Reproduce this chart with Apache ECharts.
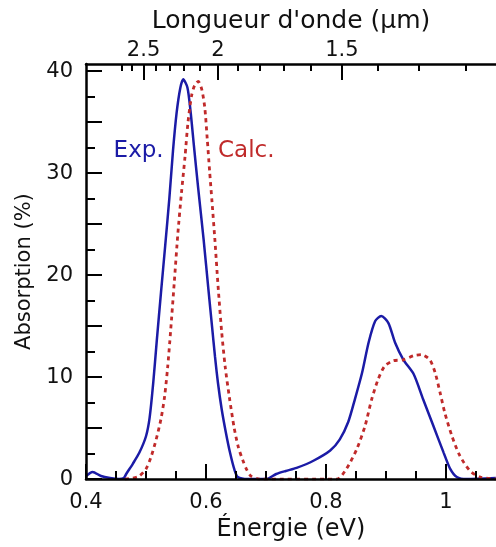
<!DOCTYPE html>
<html>
<head>
<meta charset="utf-8">
<script src="https://cdn.jsdelivr.net/npm/echarts@6/dist/echarts.min.js"></script>
<style>
html, body { margin: 0; padding: 0; background: #fff; }
#chart { width: 496px; height: 547px; }
</style>
</head>
<body>
<div id="chart"></div>
<script>
// measured spectrum (energy in eV, absorption in %)
const expEnergy = [0.400, 0.411, 0.425, 0.440, 0.455, 0.463, 0.467, 0.478, 0.489, 0.500, 0.506, 0.512, 0.518,
  0.525, 0.532, 0.539, 0.545, 0.551, 0.557, 0.562, 0.569, 0.574, 0.580, 0.587, 0.596, 0.604, 0.610, 0.615,
  0.620, 0.626, 0.633, 0.640, 0.647, 0.653, 0.670, 0.700, 0.717, 0.733, 0.751, 0.779, 0.807, 0.823, 0.837,
  0.848, 0.860, 0.871, 0.882, 0.892, 0.904, 0.915, 0.929, 0.946, 0.962, 0.979, 0.996, 1.007, 1.018, 1.034, 1.083];
const expAbs = [0.3, 0.7, 0.3, 0.1, 0.0, 0.1, 0.5, 1.5, 2.6, 4.2, 6.0, 9.4, 13.6,
  18.3, 22.9, 27.6, 32.2, 35.9, 38.3, 39.2, 38.4, 36.2, 32.6, 28.5, 23.5, 18.6, 15.0, 12.0,
  9.4, 6.9, 4.6, 2.6, 1.0, 0.2, 0.0, 0.0, 0.5, 0.8, 1.1, 1.8, 2.8, 3.9, 5.6,
  7.8, 10.4, 13.4, 15.5, 16.0, 15.3, 13.4, 11.7, 10.3, 7.8, 5.2, 2.6, 1.0, 0.2, 0.0, 0.1];

// calculated spectrum
const calcEnergy = [0.465, 0.478, 0.489, 0.500, 0.508, 0.517, 0.525, 0.531, 0.536, 0.541, 0.547, 0.553, 0.559,
  0.565, 0.570, 0.576, 0.581, 0.587, 0.593, 0.598, 0.602, 0.606, 0.610, 0.615, 0.620, 0.626, 0.632, 0.639,
  0.647, 0.654, 0.661, 0.668, 0.675, 0.689, 0.818, 0.834, 0.851, 0.865, 0.876, 0.887, 0.898, 0.912, 0.929,
  0.946, 0.959, 0.973, 0.982, 0.990, 0.998, 1.010, 1.023, 1.040, 1.057, 1.083];
const calcAbs = [0.0, 0.1, 0.3, 1.0, 2.1, 3.9, 5.9, 8.1, 10.9, 14.5, 19.2, 24.0, 28.0,
  31.6, 35.0, 37.6, 38.6, 39.0, 38.2, 36.4, 33.4, 30.2, 27.2, 23.3, 19.0, 14.5, 11.0, 8.0,
  5.0, 3.1, 1.9, 0.9, 0.3, 0.0, 0.0, 1.0, 2.9, 5.2, 7.8, 9.8, 11.1, 11.6, 11.7,
  12.1, 12.2, 11.7, 10.4, 8.5, 6.5, 4.2, 2.3, 0.8, 0.2, 0.0];

// ticks
const energyTicks = [0.4, 0.6, 0.8, 1.0];
const energyMinorTicks = [0.45, 0.5, 0.55, 0.65, 0.7, 0.75, 0.85, 0.9, 0.95, 1.05];
const absLabels = [0, 10, 20, 30, 40];
const absTicks = [0, 5, 10, 15, 20, 25, 30, 35, 40];
const absMinorTicks = [2.5, 7.5, 12.5, 17.5, 22.5, 27.5, 32.5, 37.5];
const waveTicks = [2.5, 2, 1.5];
const waveMinorTicks = [2.7, 2.6, 2.4, 2.3, 2.2, 2.1, 1.9, 1.8, 1.7, 1.6, 1.4, 1.3, 1.2];

const HC = 1.23984; // eV * um
const toEnergy = (l) => HC / l;

const font = "DejaVu Sans";
const blue = "#1b1ba6";
const red = "#c02a2a";

let chart = echarts.init(document.getElementById("chart"));

function zip(xs, ys) {
  return xs.map((x, i) => [x, ys[i]]);
}

const xMin = 0.4, xMax = 1.0833;
const yMin = 0, yMax = 40.7;

let option = {
  backgroundColor: "#fff",
  animation: false,
  grid: { left: 86, right: 0, top: 64, bottom: 67, containLabel: false },
  xAxis: [
    {
      type: "value",
      position: "bottom",
      min: xMin,
      max: xMax,
      z: 5,
      splitLine: { show: false },
      axisLine: { show: true, onZero: false, lineStyle: { color: "#000", width: 2.5 } },
      axisTick: { show: true, inside: true, length: 15, customValues: energyTicks, lineStyle: { color: "#000", width: 2 } },
      axisLabel: {
        show: true,
        customValues: energyTicks,
        margin: 13,
        color: "#111",
        fontFamily: font,
        fontSize: 21,
        formatter: (v) => String(Math.round(v * 10) / 10),
      },
      name: "Énergie (eV)",
      nameLocation: "middle",
      nameGap: 37,
      nameTextStyle: { fontFamily: font, fontSize: 24, color: "#111" },
    },
    {
      type: "value",
      position: "bottom",
      min: xMin,
      max: xMax,
      z: 5,
      splitLine: { show: false },
      axisLine: { show: false, onZero: false },
      axisTick: { show: true, inside: true, length: 8, customValues: energyMinorTicks, lineStyle: { color: "#000", width: 2 } },
      axisLabel: { show: false },
    },
    {
      type: "value",
      position: "top",
      min: xMin,
      max: xMax,
      z: 5,
      splitLine: { show: false },
      axisLine: { show: true, onZero: false, lineStyle: { color: "#000", width: 2.5 } },
      axisTick: { show: true, inside: true, length: 16, customValues: waveTicks.map(toEnergy), lineStyle: { color: "#000", width: 2 } },
      axisLabel: {
        show: true,
        customValues: waveTicks.map(toEnergy),
        margin: 3,
        color: "#111",
        fontFamily: font,
        fontSize: 21,
        formatter: (v) => String(Math.round((HC / v) * 10) / 10),
      },
      name: "Longueur d'onde (µm)",
      nameLocation: "middle",
      nameGap: 30,
      nameTextStyle: { fontFamily: font, fontSize: 25, color: "#111" },
    },
    {
      type: "value",
      position: "top",
      min: xMin,
      max: xMax,
      z: 5,
      splitLine: { show: false },
      axisLine: { show: false, onZero: false },
      axisTick: { show: true, inside: true, length: 7, customValues: waveMinorTicks.map(toEnergy), lineStyle: { color: "#000", width: 2 } },
      axisLabel: { show: false },
    },
  ],
  yAxis: [
    {
      type: "value",
      position: "left",
      min: yMin,
      max: yMax,
      z: 5,
      splitLine: { show: false },
      axisLine: { show: true, onZero: false, lineStyle: { color: "#000", width: 2.5 } },
      axisTick: { show: true, inside: true, length: 16, customValues: absTicks, lineStyle: { color: "#000", width: 2 } },
      axisLabel: {
        show: true,
        customValues: absLabels,
        margin: 13,
        color: "#111",
        fontFamily: font,
        fontSize: 21,
      },
      name: "Absorption (%)",
      nameLocation: "middle",
      nameGap: 50,
      nameRotate: 90,
      nameTextStyle: { fontFamily: font, fontSize: 21, color: "#111" },
    },
    {
      type: "value",
      position: "left",
      min: yMin,
      max: yMax,
      z: 5,
      splitLine: { show: false },
      axisLine: { show: false, onZero: false },
      axisTick: { show: true, inside: true, length: 9, customValues: absMinorTicks, lineStyle: { color: "#000", width: 2 } },
      axisLabel: { show: false },
    },
  ],
  series: [
    {
      name: "Exp.",
      type: "line",
      xAxisIndex: 0,
      yAxisIndex: 0,
      data: zip(expEnergy, expAbs),
      showSymbol: false,
      smooth: 0.25,
      lineStyle: { color: blue, width: 2.5 },
      z: 2,
    },
    {
      name: "Calc.",
      type: "line",
      xAxisIndex: 0,
      yAxisIndex: 0,
      data: zip(calcEnergy, calcAbs),
      showSymbol: false,
      smooth: 0.25,
      lineStyle: { color: red, width: 2.8, type: [4, 4] },
      z: 3,
    },
  ],
};

chart.setOption(option);

// curve labels anchored in data space
const expLabelAt = [0.446, 32.2];
const calcLabelAt = [0.62, 32.2];
const p1 = chart.convertToPixel({ xAxisIndex: 0, yAxisIndex: 0 }, expLabelAt);
const p2 = chart.convertToPixel({ xAxisIndex: 0, yAxisIndex: 0 }, calcLabelAt);
chart.setOption({
  graphic: [
    {
      type: "text",
      x: p1[0],
      y: p1[1],
      style: { text: "Exp.", fill: blue, font: "23px 'DejaVu Sans'", textAlign: "left", textVerticalAlign: "middle" },
    },
    {
      type: "text",
      x: p2[0],
      y: p2[1],
      style: { text: "Calc.", fill: red, font: "23px 'DejaVu Sans'", textAlign: "left", textVerticalAlign: "middle" },
    },
  ],
});
</script>
</body>
</html>
